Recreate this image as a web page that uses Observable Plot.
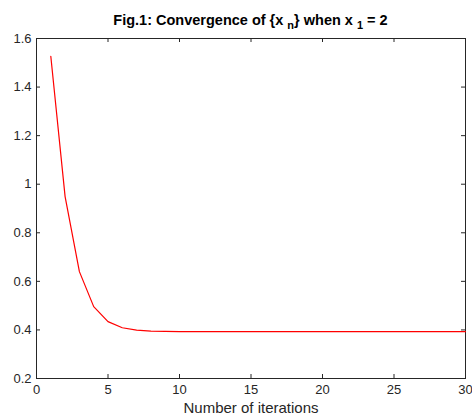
<!DOCTYPE html>
<html>
<head>
<meta charset="utf-8">
<script src="https://cdn.jsdelivr.net/npm/d3@7"></script>
<script src="https://cdn.jsdelivr.net/npm/@observablehq/plot@0.6"></script>
<style>
  body { margin: 0; background: #fff; }
  #wrap { width: 472px; font-family: "Liberation Sans", Arial, sans-serif; }
  #title { height: 30px; box-sizing: border-box; padding: 12px 7px 0 36px; text-align: center;
           font-weight: bold; font-size: 14.5px; line-height: 16px; color: #000; white-space: nowrap; }
  #title sub { font-size: 11px; vertical-align: -4px; line-height: 0; }
  svg { display: block; }
</style>
</head>
<body>
<div id="wrap">
  <div id="title">Fig.1: Convergence of {x <sub>n</sub>} when x <sub>1</sub> = 2</div>
  <div id="chart"></div>
</div>
<script>
const iterations = [1,2,3,4,5,6,7,8,9,10,11,12,13,14,15,16,17,18,19,20,21,22,23,24,25,26,27,28,29,30];
const xValues = [1.527,0.949,0.640,0.496,0.434,0.409,0.399,0.395,0.394,0.393,0.393,0.393,0.393,0.393,0.393,0.393,0.393,0.393,0.393,0.393,0.393,0.393,0.393,0.393,0.393,0.393,0.393,0.393,0.393,0.393];
const xTicks = [0,5,10,15,20,25,30];
const yTicks = [0.2,0.4,0.6,0.8,1,1.2,1.4,1.6];
const xLabel = "Number of iterations";

const data = iterations.map((n, i) => ({n, v: xValues[i]}));

const W = 472, H = 387, mt = 8, mb = 39, ml = 36, mr = 7;
const ph = H - mt - mb, pw = W - ml - mr;
const ink = "#262626";

const chart = Plot.plot({
  width: W, height: H,
  marginTop: mt, marginBottom: mb, marginLeft: ml, marginRight: mr,
  style: {fontFamily: "'Liberation Sans', Arial, sans-serif", fontSize: "13px", color: ink, background: "#fff"},
  x: {domain: [0, 30]},
  y: {domain: [0.2, 1.6]},
  marks: [
    Plot.frame({stroke: ink, strokeWidth: 1}),
    Plot.tickX(xTicks, {x: d => d, insetTop: ph - 4, stroke: ink}),
    Plot.tickX(xTicks, {x: d => d, insetBottom: ph - 4, stroke: ink}),
    Plot.tickY(yTicks, {y: d => d, insetRight: pw - 4, stroke: ink}),
    Plot.tickY(yTicks, {y: d => d, insetLeft: pw - 4, stroke: ink}),
    Plot.axisX(xTicks, {tickSize: 0, tickPadding: 6, fill: ink, fontSize: 13, label: null, tickFormat: d => String(d)}),
    Plot.axisY(yTicks, {tickSize: 0, tickPadding: 5, fill: ink, fontSize: 13, label: null, tickFormat: d => String(d)}),
    Plot.text([xLabel], {frameAnchor: "bottom", dy: 34, text: d => d, fill: ink, fontSize: 15}),
    Plot.line(data, {x: "n", y: "v", stroke: "#ff0000", strokeWidth: 1.2})
  ]
});
document.getElementById("chart").appendChild(chart);
</script>
</body>
</html>
